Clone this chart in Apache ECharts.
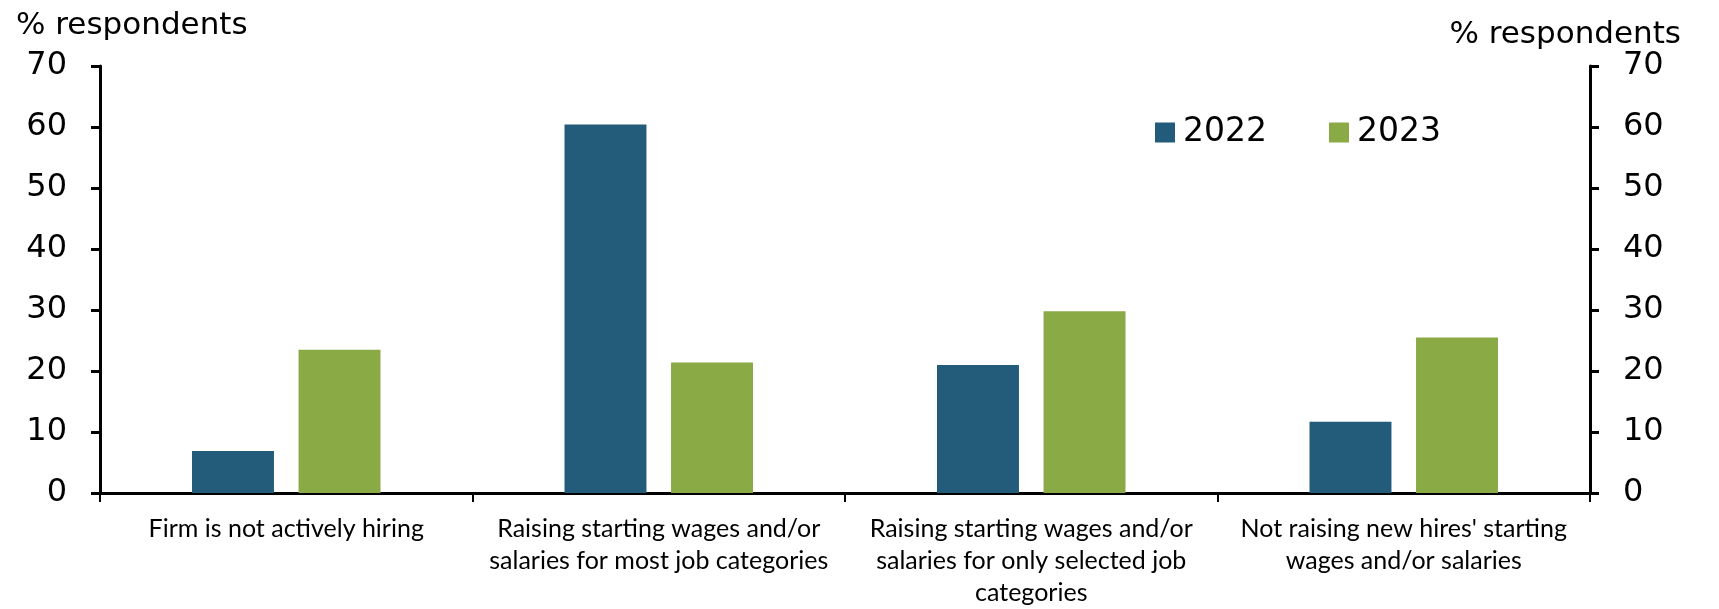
<!DOCTYPE html>
<html>
<head>
<meta charset="utf-8">
<script src="https://cdn.jsdelivr.net/npm/echarts@6/dist/echarts.min.js"></script>
<style>
html,body{margin:0;padding:0;background:#fff;}
#chart{width:1719px;height:609px;}
</style>
</head>
<body>
<div id="chart"></div>
<script>
const categories = [
  "Firm is not actively hiring",
  "Raising starting wages and/or\nsalaries for most job categories",
  "Raising starting wages and/or\nsalaries for only selected job\ncategories",
  "Not raising new hires' starting\nwages and/or salaries"
];
const seriesNames = ["2022", "2023"];
const values2022 = [6.9, 60.4, 21.0, 11.7];
const values2023 = [23.5, 21.4, 29.8, 25.5];
const yTicks = { min: 0, max: 70, interval: 10 };
const axisTitle = "% respondents";

const chart = echarts.init(document.getElementById('chart'), null, {renderer: 'canvas'});
const tickFont = "'DejaVu Sans', sans-serif";
const yAxisCommon = {
  type: 'value',
  min: yTicks.min, max: yTicks.max, interval: yTicks.interval,
  splitLine: {show: false},
  axisLine: {show: true, lineStyle: {color: '#000', width: 3}},
  axisTick: {show: true, length: 9, lineStyle: {color: '#000', width: 3}},
  axisLabel: {color: '#000', fontSize: 32, fontFamily: tickFont, margin: 33}
};
chart.setOption({
  animation: false,
  backgroundColor: '#fff',
  title: [
    {text: axisTitle, left: 11, top: 5, textStyle: {fontSize: 31, fontWeight: 'normal', color: '#000', fontFamily: tickFont}},
    {text: axisTitle, right: 33, top: 14, textStyle: {fontSize: 31, fontWeight: 'normal', color: '#000', fontFamily: tickFont}}
  ],
  legend: {
    left: 1150, top: 111,
    itemWidth: 20, itemHeight: 20, itemGap: 62,
    icon: 'rect',
    textStyle: {fontSize: 33, color: '#000', fontFamily: tickFont, padding: [0,0,0,3]},
    data: seriesNames
  },
  grid: {left: 100, right: 129, top: 66, bottom: 113},
  xAxis: {
    type: 'category',
    data: categories,
    axisLine: {lineStyle: {color: '#000', width: 3}},
    axisTick: {show: true, length: 9, interval: 0, alignWithLabel: false, lineStyle: {color: '#000', width: 2}},
    axisLabel: {color: '#000', fontSize: 25, lineHeight: 32, fontFamily: "Lato, 'Open Sans', sans-serif", margin: 20, interval: 0}
  },
  yAxis: [
    Object.assign({position: 'left'}, yAxisCommon),
    Object.assign({position: 'right'}, yAxisCommon)
  ],
  series: [
    {name: seriesNames[0], type: 'bar', data: values2022, barWidth: '22%', barGap: '30%', itemStyle: {color: '#225C7A'}},
    {name: seriesNames[1], type: 'bar', data: values2023, barWidth: '22%', barGap: '30%', itemStyle: {color: '#89AA45'}}
  ]
});
</script>
</body>
</html>
